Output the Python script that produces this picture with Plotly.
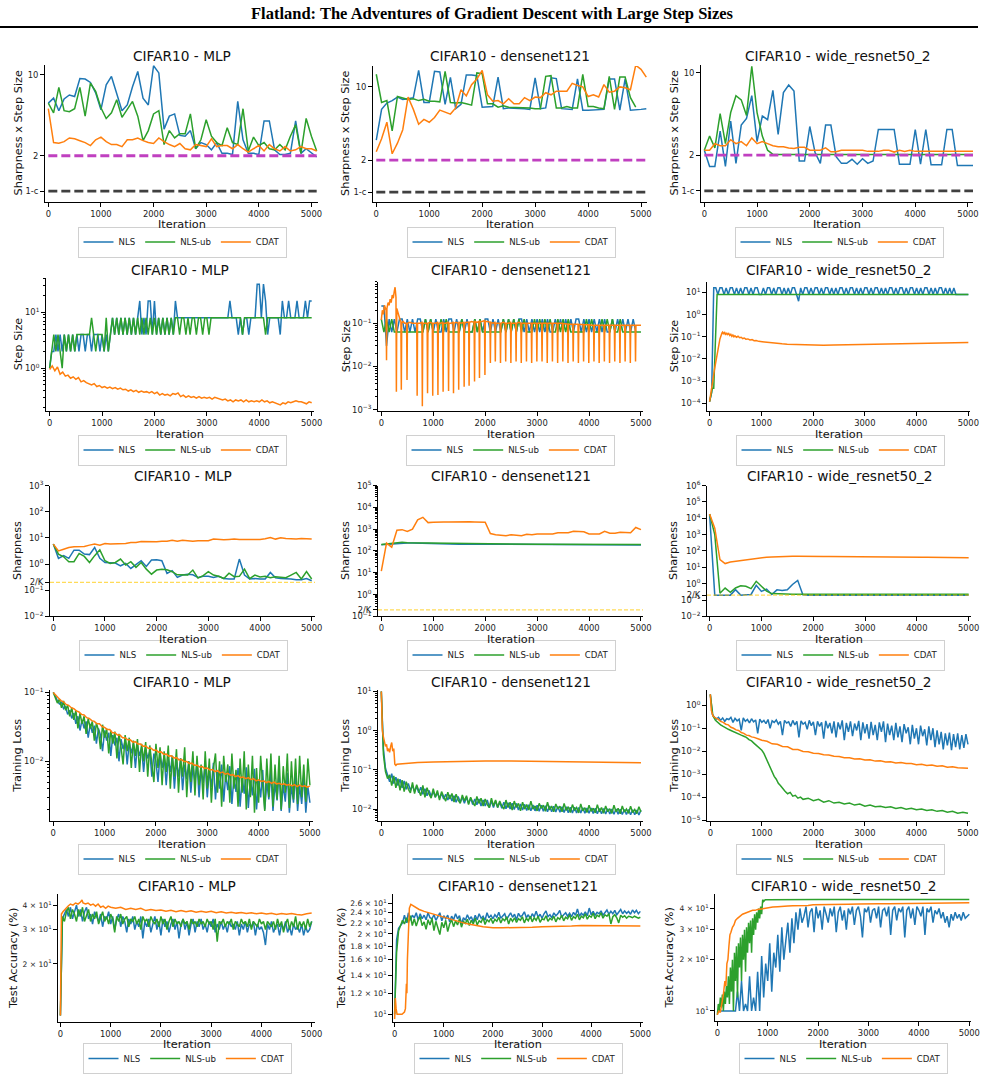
import plotly.graph_objects as go

W, H = 985, 1074
C_NLS = "#1f77b4"
C_UB = "#2ca02c"
C_CDAT = "#ff7f0e"
C_MAG = "#c040c0"
C_DARK = "#404040"
C_GOLD = "rgba(255,200,0,0.65)"

SUPTITLE = "Flatland: The Adventures of Gradient Descent with Large Step Sizes"
MODELS = ["CIFAR10 - MLP", "CIFAR10 - densenet121", "CIFAR10 - wide_resnet50_2"]
Y_LABELS = ["Sharpness x Step Size", "Step Size", "Sharpness", "Training Loss", "Test Accuracy (%)"]
X_LABEL = "Iteration"
NAMES = ["NLS", "NLS-ub", "CDAT"]
X_TICKS = [0, 1000, 2000, 3000, 4000, 5000]

TWO = 2.0
ONE_MINUS_C = 0.99
TWO_OVER_K = 0.2

ITER_5100 = list(range(0, 5101, 100))
ITER_4900 = list(range(0, 4901, 100))
ITER_5000 = list(range(0, 5001, 100))
ITER_40 = list(range(0, 5001, 40))
ITER_50 = list(range(0, 5001, 50))
ITER_50_4900 = list(range(0, 4901, 50))

# ---------------- Row 1: Sharpness x Step Size ----------------
MLP_SS_NLS = [5.7,6.3,4.9,6.2,6.7,6.5,9.3,9.2,8.6,7.0,5.0,8.2,9.7,7.0,4.9,5.5,7.9,10.7,6.3,5.5,12.0,10.4,3.4,4.4,4.6,3.0,2.95,3.3,2.3,2.6,2.5,2.25,2.6,2.1,2.1,2.05,5.9,2.75,2.1,2.1,2.05,4.0,4.0,2.25,2.05,2.05,2.1,4.0,2.1,2.3,2.1,1.95]
MLP_SS_UB = [5.7,4.7,7.8,4.9,4.8,5.1,7.8,4.4,8.5,7.2,5.2,4.2,4.7,6.1,4.3,5.0,5.9,4.4,2.7,3.3,4.6,4.9,2.5,3.3,2.85,3.1,3.1,4.6,2.3,2.75,4.1,2.95,2.6,2.45,3.5,2.6,2.5,5.1,2.2,2.9,2.45,2.6,2.3,2.25,2.5,2.25,2.95,3.7,2.1,4.2,2.95,2.2]
MLP_SS_CDAT = [5.1,2.6,2.57,2.65,2.85,2.8,2.7,2.6,2.45,2.75,2.9,2.65,2.5,2.5,2.4,2.75,2.75,2.85,2.7,2.6,2.55,2.85,2.65,2.5,2.4,2.55,2.3,2.25,2.5,2.45,2.4,2.8,2.4,2.45,2.45,2.3,2.5,2.3,2.15,2.3,2.45,2.2,2.5,2.3,2.2,2.4,2.2,2.25,2.4,2.3,2.3,2.2]

DN_SS_NLS = [3.1,6.1,7.0,7.4,8.0,7.6,7.7,7.9,14.4,7.1,7.1,14.1,13.9,6.8,12.3,6.2,6.8,13.0,13.0,12.8,6.4,6.4,6.5,12.4,6.2,6.3,6.3,6.2,6.2,6.1,12.2,6.2,6.3,12.2,12.0,6.2,6.2,6.1,11.9,6.0,6.0,6.0,6.0,6.1,11.9,11.9,6.0,11.9,6.0,6.0,6.1,6.2]
DN_SS_UB = [13.2,7.1,7.4,3.8,8.1,7.8,7.6,7.7,7.4,7.6,7.3,7.3,7.2,14.1,7.1,7.0,7.1,6.9,6.7,13.6,13.4,6.9,6.9,6.4,6.6,6.4,6.4,6.3,6.3,6.3,6.2,6.2,12.6,12.8,6.3,6.3,6.5,6.3,6.3,13.2,6.5,6.5,6.3,6.2,12.6,6.1,12.4,12.4,7.9,6.4]
DN_SS_CDAT = [2.4,3.2,4.6,2.3,2.9,3.9,8.0,6.1,4.4,4.9,4.6,5.1,6.0,5.7,5.5,6.3,9.4,8.2,10.5,11.9,14.4,8.4,7.3,7.4,6.9,7.7,6.9,6.9,7.9,7.4,8.0,7.9,8.8,8.4,9.1,9.1,9.1,10.8,10.3,10.0,8.1,8.4,8.0,10.5,8.9,9.1,10.0,9.8,9.4,16.1,14.7,12.4]

WR_SS_NLS = [2.2,1.6,1.6,3.2,1.6,3.9,1.7,3.6,4.1,6.4,2.6,4.3,4.0,7.1,3.0,6.8,7.9,7.0,1.78,1.78,3.5,2.1,1.7,3.6,3.6,1.94,1.7,1.7,1.84,1.67,1.86,1.7,1.78,3.3,3.3,3.3,3.3,1.67,1.67,1.67,3.3,1.67,3.3,1.65,1.65,1.65,3.3,3.3,1.63,1.63,1.63,1.63]
WR_SS_UB = [2.2,2.9,2.3,4.5,2.5,4.6,6.4,5.9,4.35,11.4,4.6,2.9,2.2,2.03,2.02,2.02,2.02,2.02,2.02,2.02,
            2.02,2.02,2.02,2.02,2.02,2.02,2.02,2.02,2.02,2.02,2.02,2.02,2.02,2.02,2.02,2.02,2.02,2.02,2.02,2.02,
            2.02,2.02,2.02,2.02,2.02,2.02,2.02,2.02,2.02,2.02,2.02,2.02]
WR_SS_CDAT = [2.2,2.2,2.5,2.4,2.4,2.7,2.5,2.6,2.4,2.8,2.5,2.6,2.5,2.4,2.35,2.35,2.3,2.27,2.33,2.33,2.2,2.2,2.2,2.3,2.13,2.13,2.2,2.2,2.2,2.2,2.2,2.15,2.15,2.15,2.2,2.2,2.12,2.2,2.15,2.2,2.15,2.15,2.15,2.15,2.15,2.13,2.15,2.15,2.14,2.15,2.15,2.15]

# ---------------- Row 2: Step Size ----------------
MLP_STEP_NLS = [1,2,2,4,2,4,2,4,2,4,
                2,4,2,4,2,4,4,2,4,4,
                2,4,4,4,2,4,2,4,2,4,
                8,4,8,4,8,4,8,4,8,4,
                8,4,8,16,4,8,4,16,16,4,
                16,4,8,4,8,4,8,4,8,4,
                16,8,8,8,8,8,8,8,8,8,
                8,8,8,8,8,8,8,8,8,8,
                8,8,8,8,8,8,16,8,8,8,
                4,8,4,8,8,4,8,8,8,32,
                32,8,32,16,4,8,8,8,8,8,
                4,16,8,8,16,8,8,8,16,8,
                8,8,16,8,16,16]
MLP_STEP_UB = [1,2,4,2,4,2,1,4,2,4,
               2,4,2,4,4,4,4,4,4,4,
               8,4,2,4,4,4,2,8,2,4,
               8,4,8,4,8,4,8,4,8,4,
               8,4,8,4,8,4,8,4,8,4,
               8,4,8,4,8,4,8,4,8,4,
               8,8,4,8,8,4,8,4,8,8,
               4,8,8,4,8,8,4,8,8,8,
               8,8,8,8,8,8,8,8,8,8,
               8,8,4,8,8,8,8,8,8,8,
               8,8,8,4,8,8,8,8,8,8,
               8,8,8,8,8,8,8,8,8,8,
               8,8,8,8,8,8]
MLP_STEP_CDAT = [0.95,1.1,0.9,1.05,0.78,0.85,0.72,0.75,0.66,0.7,
                 0.63,0.68,0.57,0.6,0.55,0.52,0.5,0.53,0.47,0.49,
                 0.45,0.47,0.44,0.46,0.43,0.45,0.42,0.44,0.41,0.42,
                 0.39,0.41,0.38,0.4,0.37,0.39,0.37,0.38,0.36,0.38,
                 0.35,0.37,0.33,0.35,0.33,0.34,0.32,0.35,0.34,0.36,
                 0.31,0.33,0.3,0.32,0.3,0.31,0.29,0.31,0.29,0.3,
                 0.29,0.3,0.28,0.3,0.29,0.28,0.27,0.28,0.26,0.27,
                 0.25,0.27,0.26,0.27,0.25,0.27,0.25,0.26,0.25,0.26,
                 0.25,0.27,0.25,0.26,0.24,0.25,0.24,0.23,0.22,0.24,
                 0.23,0.25,0.24,0.25,0.26,0.25,0.25,0.24,0.23,0.25,
                 0.24]

DN_STEP_NLS = [0.25,0.25,0.03,0.125,0.0625,0.125,0.0625,0.125,0.125,0.0625,
               0.125,0.0625,0.125,0.0625,0.125,0.125,0.0625,0.125,0.0625,0.125,
               0.0625,0.125,0.0625,0.0625,0.125,0.0625,0.125,0.125,0.0625,0.125,
               0.0625,0.125,0.0625,0.125,0.0625,0.0625,0.125,0.0625,0.125,0.0625,
               0.125,0.125,0.0625,0.125,0.0625,0.125,0.0625,0.125,0.0625,0.125,
               0.0625,0.125,0.0625,0.125,0.125,0.0625,0.125,0.0625,0.125,0.0625,
               0.125,0.0625,0.125,0.0625,0.125,0.0625,0.0625,0.125,0.0625,0.125,
               0.0625,0.125,0.0625,0.125,0.0625,0.125,0.125,0.0625,0.125,0.0625,
               0.125,0.0625,0.125,0.0625,0.125,0.0625,0.125,0.0625,0.0625,0.125,
               0.0625,0.125,0.0625,0.125,0.0625,0.125,0.0625,0.125,0.0625]
DN_STEP_UB = [0.125,0.0625,0.125,0.0625,0.125,0.0625,0.0625,0.0625,0.0625,0.0625,
              0.0625,0.0625,0.0625,0.0625,0.0625,0.0625,0.0625,0.125,0.0625,0.125,
              0.0625,0.0625,0.0625,0.125,0.0625,0.125,0.0625,0.0625,0.0625,0.0625,
              0.0625,0.125,0.0625,0.0625,0.0625,0.0625,0.125,0.0625,0.125,0.0625,
              0.0625,0.0625,0.0625,0.0625,0.0625,0.0625,0.0625,0.125,0.0625,0.125,
              0.0625,0.125,0.0625,0.125,0.0625,0.125,0.0625,0.0625,0.0625,0.125,
              0.0625,0.125,0.0625,0.125,0.0625,0.125,0.0625,0.0625,0.125,0.0625,
              0.125,0.0625,0.125,0.0625,0.0625,0.0625,0.0625,0.0625,0.0625,0.125,
              0.0625,0.125,0.0625,0.0625,0.0625,0.125,0.0625,0.125,0.0625,0.125,
              0.0625,0.0625,0.125,0.0625,0.0625,0.0625,0.0625,0.0625,0.0625,0.0625,0.0625]
DN_STEP_CDAT = [(0,0.12),(20,0.2),(40,0.16),(60,0.26),(80,0.22),(92,0.2),(100,0.014),(108,0.22),(130,0.3),(150,0.26),
    (170,0.36),(190,0.3),(210,0.45),(230,0.38),(250,0.55),(265,0.68),(282,0.4),(290,0.0026),(298,0.22),(320,0.17),
    (340,0.14),(360,0.12),(377,0.11),(385,0.0029),(393,0.1),(420,0.11),(450,0.1),(487,0.1),(495,0.0049),(503,0.1),
    (550,0.105),(600,0.1),(650,0.1),(682,0.1),(690,0.0021),(698,0.1),(740,0.1),(782,0.105),(790,0.0012),(798,0.1),
    (840,0.1),(882,0.1),(890,0.0024),(898,0.1),(940,0.105),(982,0.1),(990,0.0021),(998,0.1),(1040,0.1),(1082,0.105),
    (1090,0.0022),(1098,0.1),(1140,0.1),(1182,0.105),(1190,0.0026),(1198,0.1),(1240,0.1),(1287,0.105),(1295,0.0027),(1303,0.1),
    (1340,0.1),(1382,0.105),(1390,0.0024),(1398,0.1),(1440,0.105),(1482,0.1),(1490,0.0029),(1498,0.105),(1540,0.1),(1587,0.105),
    (1595,0.0034),(1603,0.1),(1640,0.105),(1682,0.105),(1690,0.0036),(1698,0.105),(1740,0.11),(1787,0.105),(1795,0.0045),(1803,0.11),
    (1840,0.105),(1882,0.11),(1890,0.0054),(1898,0.11),(1940,0.11),(1987,0.115),(1995,0.0064),(2003,0.11),(2050,0.11),(2092,0.105),
    (2100,0.012),(2108,0.105),(2150,0.1),(2187,0.105),(2195,0.013),(2203,0.1),(2250,0.1),(2287,0.1),(2295,0.012),(2303,0.1),
    (2350,0.105),(2387,0.1),(2395,0.013),(2403,0.1),(2450,0.1),(2487,0.105),(2495,0.012),(2503,0.1),(2550,0.1),(2587,0.1),
    (2595,0.013),(2603,0.1),(2650,0.105),(2687,0.1),(2695,0.012),(2703,0.1),(2750,0.1),(2787,0.1),(2795,0.013),(2803,0.1),
    (2850,0.1),(2887,0.1),(2895,0.012),(2903,0.1),(2950,0.1),(2987,0.1),(2995,0.013),(3003,0.1),(3050,0.1),(3087,0.1),
    (3095,0.013),(3103,0.1),(3150,0.1),(3187,0.1),(3195,0.012),(3203,0.1),(3250,0.1),(3287,0.1),(3295,0.013),(3303,0.1),
    (3350,0.1),(3387,0.1),(3395,0.012),(3403,0.1),(3450,0.1),(3487,0.1),(3495,0.013),(3503,0.097),(3550,0.097),(3587,0.095),
    (3595,0.012),(3603,0.095),(3650,0.095),(3687,0.095),(3695,0.013),(3703,0.095),(3750,0.095),(3787,0.095),(3795,0.012),(3803,0.093),
    (3850,0.093),(3887,0.093),(3895,0.013),(3903,0.093),(3950,0.092),(3987,0.092),(3995,0.012),(4003,0.092),(4050,0.09),(4087,0.09),
    (4095,0.013),(4103,0.09),(4150,0.09),(4187,0.09),(4195,0.012),(4203,0.09),(4250,0.09),(4287,0.09),(4295,0.013),(4303,0.09),
    (4350,0.09),(4387,0.09),(4395,0.012),(4403,0.09),(4450,0.09),(4487,0.09),(4495,0.013),(4503,0.09),(4550,0.09),(4587,0.09),
    (4595,0.012),(4603,0.09),(4650,0.09),(4687,0.09),(4695,0.013),(4703,0.09),(4750,0.09),(4787,0.09),(4795,0.012),(4803,0.09),
    (4850,0.09),(4887,0.09),(4895,0.013),(4903,0.09),(4950,0.09),(5000,0.09)]

WR_STEP_NLS_X = [0, 40, 80] + list(range(120, 5001, 40))
WR_STEP_NLS = [1.2e-4, 3e-4, 16,
               16,8,16,16,8,16,8,16,16,8,
               16,8,16,8,16,16,8,16,8,16,
               16,8,8,16,8,16,16,8,16,8,
               16,16,8,16,8,16,8,16,16,8,
               4,16,8,16,16,8,16,8,16,16,
               8,16,8,16,16,8,16,8,16,8,
               16,16,8,16,8,16,16,8,16,8,
               16,8,16,16,8,16,8,16,16,8,
               16,8,16,8,16,16,8,16,8,16,
               16,8,16,8,16,16,8,16,8,16,
               8,16,16,8,16,8,16,8,16,16,
               8,16,8,16,8,16,8,8,8,8,
               8,8,8]
WR_STEP_UB = [(0,1.2e-4),(55,4.8e-4),(80,4.8e-4),(145,8),(5000,8)]
WR_STEP_CDAT = [(0,1.2e-4),(30,3e-4),(60,0.001),(100,0.004),(150,0.02),(200,0.08),(240,0.15),(250,0.16),(270,0.13),(290,0.165),
    (310,0.12),(330,0.15),(350,0.125),(370,0.14),(390,0.115),(410,0.13),(430,0.105),(450,0.12),(470,0.1),(490,0.11),
    (520,0.095),(550,0.105),(580,0.09),(610,0.095),(640,0.083),(670,0.088),(700,0.078),(740,0.08),(780,0.072),(820,0.074),
    (860,0.066),(900,0.067),(950,0.062),(1000,0.06),(1050,0.058),(1100,0.055),(1200,0.052),(1300,0.05),(1400,0.048),(1500,0.046),
    (1600,0.045),(1700,0.044),(1800,0.043),(1900,0.042),(2000,0.042),(2200,0.041),(2400,0.042),(2600,0.043),(2800,0.044),(3000,0.045),
    (3200,0.046),(3400,0.047),(3600,0.048),(3800,0.049),(4000,0.05),(4200,0.051),(4400,0.052),(4600,0.053),(4800,0.054),(5000,0.055)]

# ---------------- Row 3: Sharpness ----------------
MLP_SH_NLS = [5.8,1.65,2.1,1.65,3.4,3.4,2.4,2.3,4.3,1.65,1.15,1.1,1.1,0.86,1.06,0.68,0.92,1.34,0.81,1.42,1.46,1.34,0.44,0.56,0.31,0.38,0.41,0.39,0.31,0.34,0.34,0.31,0.34,0.28,0.27,0.27,1.55,0.38,0.27,0.28,0.27,0.27,0.48,0.30,0.28,0.28,0.27,0.25,0.25,0.28,0.23]
MLP_SH_UB = [5.8,2.4,1.9,1.23,1.23,2.55,1.96,1.15,2.1,3.5,1.34,1.06,1.15,1.55,0.92,1.23,0.75,1.15,0.64,0.41,0.59,0.64,0.61,0.51,0.39,0.38,0.38,0.59,0.29,0.36,0.51,0.38,0.34,0.28,0.45,0.33,0.34,0.64,0.28,0.38,0.32,0.34,0.30,0.33,0.32,0.30,0.38,0.48,0.27,0.52,0.27]
MLP_SH_CDAT = [5.8,3.2,3.7,4.3,4.6,4.6,4.7,5.3,5.8,5.3,6.1,5.8,5.8,6.1,6.1,6.7,6.7,7.3,7.1,7.1,7.1,7.5,7.5,8.2,7.5,8.2,7.8,7.5,7.8,7.8,7.8,9.0,8.5,8.5,8.7,9.0,8.7,8.7,8.5,8.5,8.7,9.2,10.4,9.0,10.1,9.5,9.2,9.0,9.5,9.2,9.0]

DN_SH_NLS = [195,205,210,220,240,235,235,230,225,220,215,215,212,210,205,205,205,205,205,205,205,205,203,203,202,200,200,200,198,196,196,195,195,195,195,195,195,193,193,192,192,192,192,190,190,190,190,190,190,190,190]
DN_SH_UB = [200,210,215,225,250,240,238,235,230,225,220,220,218,215,212,212,210,210,210,212,210,208,208,207,205,205,205,205,204,204,203,203,203,202,202,202,202,202,201,200,200,200,200,200,200,200,200,200,200,200,198]
DN_SH_CDAT = [12,230,150,900,950,780,1000,2700,3500,2000,2100,2200,2150,2150,2200,2200,2200,2200,2150,2100,2100,630,550,530,500,560,520,500,580,560,600,600,620,600,680,680,680,800,760,760,600,600,600,800,650,650,720,700,680,1200,950]

WR_SH_NLS = [18000,0.2,0.2,0.2,0.2,0.43,0.2,0.21,0.22,0.8,0.34,0.47,0.22,0.42,0.38,0.42,0.9,1.6,0.21,0.2,
             0.2,0.2,0.19,0.2,0.2,0.19,0.2,0.2,0.2,0.19,0.2,0.2,0.2,0.19,0.2,0.2,0.2,0.2,0.19,0.2,
             0.2,0.2,0.2,0.2,0.19,0.2,0.2,0.2,0.2,0.2,0.2]
WR_SH_UB = [18000,1000,0.26,0.54,0.3,0.55,0.75,0.7,0.5,1.4,0.7,0.35,0.25,0.24,0.23,0.23,0.23,0.23,0.23,0.23,
            0.23,0.24,0.23,0.23,0.23,0.23,0.23,0.23,0.23,0.23,0.23,0.23,0.23,0.23,0.23,0.23,0.23,0.23,0.23,0.23,
            0.23,0.23,0.23,0.23,0.23,0.23,0.23,0.23,0.23,0.23,0.23]
WR_SH_CDAT = [18000,2500,30,17,21,23,25,28,33,36,40,42,43,44,45,50,47,47,46,46,46,46,46,46,46,46,46,45,45,45,45,45,45,45,45,45,44,44,43,43,42,42,41,41,40,40,39,39,38,38,38]

# ---------------- Row 4: Training Loss ----------------
MLP_LOSS_NLS = [0.1,0.09,0.075,0.068,0.072,0.058,0.062,0.048,0.055,0.042,
                0.05,0.035,0.045,0.028,0.04,0.03,0.038,0.022,0.035,0.026,
                0.033,0.018,0.03,0.024,0.014,0.028,0.02,0.026,0.012,0.024,
                0.017,0.022,0.01,0.021,0.015,0.02,0.009,0.019,0.013,0.018,
                0.008,0.017,0.012,0.016,0.007,0.015,0.011,0.014,0.006,0.013,
                0.01,0.005,0.013,0.008,0.012,0.0045,0.011,0.007,0.012,0.004,
                0.01,0.006,0.011,0.0038,0.009,0.0055,0.01,0.0035,0.0085,0.005,
                0.01,0.003,0.008,0.0048,0.009,0.003,0.0075,0.0042,0.0095,0.0028,
                0.007,0.004,0.009,0.0026,0.0065,0.0038,0.0085,0.0024,0.006,0.0036,
                0.008,0.0022,0.0058,0.0034,0.0082,0.0021,0.0055,0.0032,0.0078,0.002,
                0.0052,0.003,0.0075,0.002,0.005,0.0028,0.0072,0.0019,0.0048,0.0027,
                0.007,0.0019,0.0046,0.0026,0.0068,0.0018,0.0045,0.0025,0.0066,0.0019,
                0.0044,0.0024,0.0065,0.0018,0.0043,0.0025]
MLP_LOSS_UB = [0.1,0.085,0.07,0.08,0.06,0.075,0.055,0.065,0.045,0.06,
               0.04,0.055,0.03,0.05,0.035,0.045,0.025,0.042,0.03,0.038,
               0.02,0.036,0.028,0.015,0.034,0.022,0.03,0.013,0.028,0.018,
               0.027,0.011,0.025,0.016,0.009,0.024,0.014,0.022,0.008,0.02,
               0.012,0.021,0.007,0.018,0.01,0.019,0.006,0.017,0.009,0.005,
               0.018,0.008,0.016,0.0045,0.014,0.007,0.017,0.004,0.012,0.006,
               0.015,0.0035,0.011,0.006,0.016,0.003,0.01,0.005,0.014,0.0032,
               0.012,0.0045,0.009,0.0028,0.014,0.004,0.011,0.0025,0.008,0.013,
               0.0035,0.01,0.0022,0.012,0.005,0.009,0.0025,0.013,0.004,0.0075,
               0.0022,0.011,0.0035,0.014,0.002,0.009,0.003,0.012,0.0018,0.008,
               0.0025,0.012,0.0045,0.0019,0.011,0.003,0.013,0.0022,0.009,0.0028,
               0.012,0.002,0.0085,0.0035,0.013,0.0021,0.01,0.0028,0.011,0.0024,
               0.012,0.003,0.009,0.0026,0.011,0.0045]
MLP_LOSS_CDAT = [0.1,0.09,0.083,0.076,0.073,0.067,0.065,0.06,0.058,0.054,
                 0.052,0.048,0.047,0.043,0.042,0.039,0.038,0.035,0.035,0.032,
                 0.031,0.029,0.029,0.026,0.026,0.024,0.024,0.022,0.022,0.0205,
                 0.0205,0.019,0.0192,0.0178,0.0178,0.0166,0.0167,0.0155,0.0156,0.0145,
                 0.0146,0.0136,0.0137,0.0127,0.0128,0.0119,0.012,0.0112,0.0113,0.0105,
                 0.0106,0.0099,0.0099,0.0093,0.0094,0.0088,0.0088,0.0083,0.0084,0.0079,
                 0.008,0.0075,0.0076,0.0071,0.0073,0.0068,0.007,0.0065,0.0067,0.0063,
                 0.0064,0.006,0.0062,0.0058,0.0059,0.0056,0.0058,0.0054,0.0056,0.0052,
                 0.0054,0.0051,0.0052,0.0049,0.0051,0.0048,0.005,0.0047,0.0048,0.0046,
                 0.0047,0.0045,0.0046,0.0044,0.0046,0.0043,0.0045,0.0043,0.0044,0.0042,
                 0.0044]

DN_LOSS_NLS = [10,0.35,0.11,0.07,0.05,0.08,0.045,0.065,0.04,0.058,
               0.035,0.052,0.032,0.045,0.03,0.04,0.028,0.038,0.026,0.036,
               0.024,0.033,0.022,0.03,0.021,0.028,0.02,0.026,0.019,0.025,
               0.018,0.024,0.017,0.023,0.016,0.022,0.015,0.021,0.015,0.02,
               0.014,0.02,0.014,0.019,0.013,0.018,0.013,0.018,0.012,0.017,
               0.012,0.017,0.011,0.016,0.011,0.016,0.011,0.015,0.0105,0.015,
               0.0102,0.0145,0.01,0.014,0.0098,0.014,0.0095,0.0135,0.0095,0.0132,
               0.0092,0.013,0.009,0.0128,0.009,0.0126,0.0088,0.0125,0.0088,0.0122,
               0.0086,0.012,0.0085,0.0118,0.0084,0.0116,0.0083,0.0115,0.0082,0.0114,
               0.0081,0.0112,0.008,0.0111,0.008,0.011,0.0079,0.0108,0.0078,0.0107,
               0.0078,0.0106,0.0077,0.0105,0.0076,0.0104,0.0076,0.0103,0.0075,0.0102,
               0.0075,0.0101,0.0074,0.01,0.0074,0.0099,0.0073,0.0098,0.0073,0.0097,
               0.0072,0.0096,0.0072,0.0095,0.0071,0.0094]
DN_LOSS_UB = [10,0.25,0.09,0.06,0.075,0.04,0.07,0.035,0.06,0.03,
              0.055,0.028,0.05,0.032,0.026,0.048,0.025,0.042,0.03,0.022,
              0.04,0.02,0.035,0.024,0.019,0.033,0.02,0.03,0.017,0.028,
              0.021,0.016,0.027,0.018,0.025,0.015,0.024,0.017,0.014,0.023,
              0.016,0.022,0.013,0.02,0.015,0.012,0.021,0.014,0.019,0.012,
              0.018,0.013,0.011,0.019,0.012,0.017,0.011,0.016,0.012,0.01,
              0.017,0.011,0.015,0.0095,0.016,0.011,0.014,0.009,0.015,0.01,
              0.013,0.0095,0.016,0.01,0.012,0.009,0.014,0.0105,0.0125,0.0088,
              0.015,0.0095,0.012,0.0085,0.0135,0.01,0.0118,0.0085,0.014,0.0092,
              0.0115,0.0082,0.013,0.0095,0.011,0.008,0.0135,0.009,0.0108,0.0082,
              0.0125,0.0088,0.0105,0.008,0.013,0.0085,0.011,0.0078,0.012,0.0086,
              0.0102,0.0078,0.0125,0.0085,0.0105,0.0076,0.012,0.0084,0.01,0.0078,
              0.0118,0.0082,0.0098,0.0077,0.0115,0.0085]
DN_LOSS_CDAT = [(0,10),(10,3),(20,1.0),(40,0.7),(60,0.5),(80,0.4),(100,0.45),(120,0.3),(140,0.35),(160,0.28),
    (180,0.4),(200,0.5),(220,0.3),(240,0.35),(260,0.14),(280,0.13),(300,0.14),(400,0.145),(500,0.15),(700,0.155),
    (1000,0.16),(1500,0.165),(2000,0.17),(2500,0.168),(3000,0.165),(3500,0.16),(4000,0.158),(4500,0.155),(5000,0.153)]

WR_LOSS_NLS = [3,0.4,0.3,0.25,0.3,0.22,0.28,0.2,0.26,0.24,
               0.3,0.18,0.27,0.21,0.25,0.08,0.28,0.2,0.24,0.17,
               0.26,0.19,0.23,0.06,0.25,0.18,0.22,0.16,0.24,0.1,
               0.21,0.18,0.23,0.15,0.2,0.05,0.22,0.17,0.19,0.12,
               0.22,0.14,0.2,0.04,0.21,0.15,0.18,0.09,0.22,0.13,
               0.19,0.05,0.2,0.12,0.18,0.035,0.21,0.1,0.17,0.06,
               0.2,0.04,0.18,0.09,0.22,0.03,0.17,0.07,0.2,0.045,
               0.16,0.08,0.21,0.03,0.18,0.06,0.15,0.035,0.19,0.05,
               0.14,0.03,0.18,0.07,0.2,0.025,0.16,0.05,0.13,0.03,
               0.17,0.04,0.12,0.025,0.15,0.06,0.11,0.02,0.14,0.035,
               0.1,0.02,0.13,0.045,0.09,0.018,0.12,0.03,0.1,0.015,
               0.08,0.02,0.07,0.012,0.06,0.018,0.065,0.011,0.055,0.015,
               0.06,0.012,0.05,0.014,0.055,0.02]
WR_LOSS_UB = [(0,3),(20,0.9),(50,0.35),(100,0.22),(150,0.17),(200,0.14),(250,0.12),(300,0.1),(350,0.09),(400,0.08),
    (450,0.07),(500,0.065),(550,0.055),(600,0.05),(650,0.045),(700,0.04),(750,0.032),(800,0.028),(850,0.022),(900,0.018),
    (950,0.014),(1000,0.011),(1040,0.008),(1080,0.005),(1120,0.003),(1160,0.0018),(1200,0.0012),(1240,0.0008),(1280,0.0006),(1320,0.0004),
    (1360,0.00032),(1400,0.00024),(1450,0.00018),(1500,0.00014),(1550,0.00016),(1600,0.00011),(1650,0.00012),(1700,0.00009),(1750,0.0001),(1800,0.00008),
    (1900,0.00009),(2000,0.00007),(2100,0.00008),(2200,0.00006),(2300,0.00007),(2400,0.000055),(2500,0.00006),(2600,0.00005),(2700,0.000055),(2800,0.000045),
    (2900,0.00005),(3000,0.00004),(3100,0.000045),(3200,0.000038),(3300,0.00004),(3400,0.000035),(3500,0.000038),(3600,0.000032),(3700,0.000035),(3800,0.00003),
    (3900,0.000033),(4000,0.000028),(4100,0.00003),(4200,0.000026),(4300,0.000028),(4400,0.000024),(4500,0.000026),(4600,0.000022),(4700,0.000024),(4800,0.00002),
    (4900,0.000022),(5000,0.00002)]
WR_LOSS_CDAT = [(0,3),(20,0.6),(50,0.35),(100,0.28),(150,0.25),(200,0.2),(250,0.18),(300,0.15),(350,0.14),(400,0.11),
    (450,0.1),(500,0.085),(550,0.08),(600,0.065),(650,0.06),(700,0.05),(750,0.048),(800,0.042),(850,0.04),(900,0.035),
    (950,0.033),(1000,0.03),(1100,0.027),(1200,0.021),(1300,0.02),(1400,0.016),(1500,0.0155),(1600,0.012),(1700,0.0118),(1800,0.0098),
    (1900,0.0094),(2000,0.0082),(2100,0.008),(2200,0.007),(2300,0.0069),(2400,0.006),(2500,0.0059),(2600,0.0052),(2700,0.0052),(2800,0.0046),
    (2900,0.0047),(3000,0.0041),(3100,0.0042),(3200,0.0037),(3300,0.0038),(3400,0.0034),(3500,0.0035),(3600,0.0031),(3700,0.0032),(3800,0.0029),
    (3900,0.0029),(4000,0.0026),(4100,0.0027),(4200,0.0024),(4300,0.0025),(4400,0.0022),(4500,0.0023),(4600,0.002),(4700,0.0021),(4800,0.0019),
    (4900,0.0019),(5000,0.0018)]

# ---------------- Row 5: Test Accuracy ----------------
MLP_ACC_NLS = [10.9,34,36,38,35,39,34,37,40,35,
               38,33,37,39,34,36,32,37,35,33,
               36,31,35,34,37,32,35,30,34,36,
               31,35,33,29,34,32,35,30,33,31,
               35,27,33,31,34,29,32,35,30,33,
               28,34,31,33,29,32,34,30,33,27,
               32,34,30,33,28,32,34,29,33,31,
               34,30,32,29,33,31,34,29,32,30,
               33,30,32,29,33,31,32,30,33,28,
               32,30,33,29,32,31,33,28,32,30,
               31,29,25,32,30,33,29,31,32,28,
               32,30,33,29,31,28,32,30,31,29,
               32,28,31,29,30,33]
MLP_ACC_UB = [10.9,35,33,37,39,34,38,36,33,38,
              35,39,33,36,38,33,36,34,37,32,
              35,37,33,35,32,36,34,29,35,33,
              36,32,34,35,31,34,33,35,32,34,
              30,35,33,34,31,35,33,32,34,31,
              35,32,34,30,33,35,31,34,32,33,
              31,34,32,33,30,34,32,33,31,34,
              32,33,31,34,32,33,30,34,26,33,
              32,34,31,33,32,34,30,33,32,31,
              34,32,33,31,34,30,33,32,31,34,
              32,33,30,33,32,31,33,30,34,31,
              33,29,32,34,30,33,31,35,30,33,
              31,33,30,34,31,33]
MLP_ACC_CDAT = [(0,10.9),(20,36),(50,37),(100,38.5),(150,39.5),(200,40.5),(250,40),(300,41),(350,40.5),(400,41.5),
    (430,42.5),(450,41),(500,40.5),(550,41),(600,40),(650,40.5),(700,39.5),(750,40.5),(800,39),(850,39.5),
    (900,38.5),(950,39.5),(1000,39),(1100,38.5),(1200,39),(1300,38),(1400,38.5),(1500,38),(1600,38.5),(1700,37.5),
    (1800,38),(1900,37.5),(2000,37.8),(2100,37.2),(2200,37.6),(2300,37),(2400,37.5),(2500,37),(2600,37.4),(2700,36.8),
    (2800,37.2),(2900,36.8),(3000,37.2),(3100,36.6),(3200,37),(3300,36.5),(3400,36.8),(3500,36.4),(3600,36.7),(3700,36.2),
    (3800,36.6),(3900,36.1),(4000,36.4),(4100,36),(4200,36.3),(4300,35.8),(4400,36.2),(4500,35.9),(4600,36.2),(4700,35.8),
    (4800,35.6),(4900,36.1),(5000,36.4)]

DN_ACC_NLS = [10,19,21,21.5,22,23.5,22,24,22.5,23.5,
              23,24,22.5,23.8,22.8,23.5,22.6,24,23,22.8,
              23.6,22.5,23.2,24,22.4,23.4,22.8,23.5,22.2,23.3,
              22.6,23.8,22.8,23.4,21.8,23,22.5,23.6,22.7,23.2,
              22.2,23.5,22.6,23.8,22.9,23.3,22.5,24,23,23.5,
              22.8,23.6,23.1,24.1,22.9,23.4,23.8,22.7,23.5,24,
              23.1,23.7,22.6,23.9,23.2,23.5,24.2,23,23.6,22.8,
              23.8,23.2,24.3,23.1,23.7,22.9,23.8,24.4,23.2,23.6,
              23,24,23.4,23.8,24.5,23.1,23.6,24,23.3,23.9,
              23.2,24.1,23.5,24.8,23.3,23.9,23.5,24.2,23.4,25,
              23.6,24.3,23.5,24.1,23.8,24.4,23.5,24,24.6,23.7,
              24.3,23.8,24.5,23.6,24.2,24.7,23.8,24.4,23.9,24.3,
              23.7,24.6,24,24.5,23.8,24.3]
DN_ACC_UB = [10,17,20.5,21.5,22.5,21.8,23,22,23.4,21.5,
             22.8,21.4,22.6,23.2,21.5,22.2,20.8,22.6,21.6,22.9,
             20.6,22.3,21.2,19.9,22.1,21.1,22.5,20.4,21.8,22.6,
             21.3,22.4,21.6,22.8,21.2,22.3,21.9,22.7,21.5,22.5,
             21.8,22.9,21.6,22.4,22.1,23,21.7,22.6,22.2,22.9,
             21.9,22.7,22.3,23.1,22,22.8,22.4,23.2,21.8,22.9,
             22.3,23,22.1,22.8,22.5,23.2,22,22.9,22.4,23.3,
             22.2,23,22.5,23.3,22.1,22.8,22.6,23.4,22.3,22.9,
             22.6,23.3,22.2,23,22.7,23.5,22.4,23.1,22.8,23.6,
             22.5,23.2,22.9,23.7,22.6,23.3,23,23.8,22.7,23.4,
             23.1,23.9,22.8,23.5,23.2,24,22.9,23.6,23.3,23.8,
             21.8,23.2,23.6,23,22,23.5,23.1,23.4,22.9,23.3,
             23.2,23,23.3,23.1,22.9,23.1]
DN_ACC_CDAT = [(0,9.6),(15,11.5),(30,10.5),(50,10),(100,10),(150,10),(200,10.2),(220,10.5),(240,13),(250,12),
    (260,16),(280,22),(300,25),(330,25.8),(360,25.6),(400,25.3),(450,25),(500,24.7),(600,24.3),(700,24),
    (800,23.6),(900,23.3),(1000,23),(1100,22.7),(1200,22.5),(1300,22.2),(1400,22),(1500,21.8),(1600,21.6),(1700,21.5),
    (1800,21.3),(1900,21.2),(2000,21.1),(2200,21.1),(2400,21.1),(2600,21.2),(2800,21.2),(3000,21.3),(3200,21.3),(3400,21.4),
    (3600,21.4),(3800,21.5),(4000,21.5),(4200,21.4),(4400,21.5),(4600,21.4),(4800,21.4),(5000,21.4)]

WR_ACC_NLS = [10,10,10,10,10,10,10,10,10,10,
              13,10,15,10,11,10,16,10,12,10,
              17,10,21,12,19,15,25,13,22,18,
              28,17,31,20,26,33,22,35,25,38,
              30,40,33,36,41,31,38,40,29,41,
              35,39,30,41,37,33,40,36,41,29,
              38,41,34,39,30,40,37,41,32,39,
              41,36,27,40,38,41,33,39,40,35,
              41,31,39,40,36,41,28,39,41,34,
              40,38,41,27,39,41,35,40,32,41,
              39,36,41,28,40,38,41,33,39,37,
              40,35,38,33,36,31,37,34,38,35,
              37,34,38,35,36,37]
WR_ACC_UB = [(0,9.5),(20,11),(40,10),(60,12),(80,10.5),(100,12.5),(120,10),(140,13),(160,11),(180,14),
    (200,12),(220,16),(240,11),(260,18),(280,13),(300,20),(320,10),(340,22),(360,15),(380,24),
    (400,12),(420,25),(440,18),(460,27),(480,15),(500,28),(520,20),(540,30),(560,17),(580,31),
    (600,22),(620,33),(640,25),(660,34),(680,22),(700,35),(720,28),(740,37),(760,30),(780,38),
    (800,33),(820,40),(840,35),(860,41),(880,37),(900,45),(920,44),(950,45),(1000,45),(1500,45.2),
    (2000,45.2),(3000,45.2),(4000,45.2),(5000,45.2)]
WR_ACC_CDAT = [(0,9.5),(30,10),(60,9.8),(90,11),(120,12.5),(150,15),(170,14),(190,19),(210,20),(230,24),
    (250,28),(270,29),(300,31),(330,32),(360,34),(400,35),(450,36),(500,37),(550,37.5),(600,38),
    (650,38.5),(700,39),(750,39),(800,39.5),(900,39.8),(1000,40.5),(1100,40.8),(1200,41),(1300,41),(1400,41.3),
    (1500,41.5),(1600,41.5),(1700,41.8),(1800,41.7),(1900,42),(2000,42),(2200,42.1),(2400,42.3),(2600,42.3),(2800,42.5),
    (3000,42.4),(3200,42.6),(3400,42.7),(3600,42.8),(3800,42.8),(4000,42.9),(4200,43),(4400,43),(4600,43.1),(4800,43.2),
    (5000,43.2)]

# ---------------- geometry (pixels) ----------------
BOXES = [
    [(45, 65, 318, 202), (373, 66, 647, 202), (701, 65, 973, 202)],
    [(46, 278, 314, 411), (378, 282, 643, 411), (707, 282, 970, 411)],
    [(50, 486, 315, 617), (378, 486, 643, 617), (707, 486, 971, 617)],
    [(50, 691, 313, 822), (378, 691, 643, 822), (707, 691, 970, 822)],
    [(58, 895, 315, 1023), (393, 895, 643, 1023), (715, 895, 971, 1022)],
]
TITLE_Y = [56, 270, 476, 683, 887]
XLAB_Y = [225, 435, 640, 845, 1045]
YLAB_X = [[18, 346, 674], [18, 346, 674], [18, 346, 674], [18, 346, 675], [13, 341, 670]]
LEG_Y = [242, 450, 655, 859, 1059]
LEG_X = [[182, 511, 839], [182, 510, 840], [183, 511, 840], [182, 511, 840], [187, 518, 843]]
TICK_SIZE = [8.4, 8.4, 8.4, 8.4, 7.6]


def unzip(pairs):
    return [p[0] for p in pairs], [p[1] for p in pairs]


def p10(e):
    s = str(e) if e >= 0 else "\u2212" + str(-e)
    return "10<sup>" + s + "</sup>"


def minor_vals(e0, e1):
    return [m * 10.0 ** e for e in range(e0, e1) for m in range(2, 10)]


fig = go.Figure()
lay = {}
annots = []
shapes = []


def panel(n, r, c, xr, yr, yt, ytt, series, minor=None, refs=(), hline=None):
    l, t, rr, b = BOXES[r][c]
    xa, ya = ("x", "y") if n == 1 else ("x%d" % n, "y%d" % n)
    xk, yk = ("xaxis", "yaxis") if n == 1 else ("xaxis%d" % n, "yaxis%d" % n)
    lk = "legend" if n == 1 else "legend%d" % n
    common = dict(showline=True, linecolor="black", linewidth=0.9, ticks="outside", ticklen=4,
                  tickwidth=0.9, tickcolor="black", showgrid=False, zeroline=False, automargin=False)
    lay[xk] = dict(domain=[l / W, rr / W], range=list(xr), anchor=ya, tickmode="array",
                   tickvals=X_TICKS, ticktext=[str(v) for v in X_TICKS],
                   tickfont=dict(size=8.4, color="#222", family="DejaVu Sans"), **common)
    yd = dict(domain=[1 - b / H, 1 - t / H], type="log", range=list(yr), anchor=xa,
              tickmode="array", tickvals=yt, ticktext=ytt,
              tickfont=dict(size=TICK_SIZE[r], color="#222", family="DejaVu Sans"), **common)
    if minor:
        yd["minor"] = dict(tickmode="array", tickvals=minor, ticks="outside", ticklen=2.3,
                           tickwidth=0.7, tickcolor="black")
    lay[yk] = yd
    for (x, y, color, name) in series:
        fig.add_trace(go.Scatter(x=x, y=y, mode="lines", name=name, xaxis=xa, yaxis=ya,
                                 legend=lk, line=dict(color=color, width=1.5)))
    for (x, y, color, width, dash) in refs:
        fig.add_trace(go.Scatter(x=x, y=y, mode="lines", showlegend=False, xaxis=xa, yaxis=ya,
                                 hoverinfo="skip", line=dict(color=color, width=width, dash=dash)))
    if hline is not None:
        shapes.append(dict(type="line", xref=xa + " domain", x0=0, x1=1, yref=ya, y0=hline, y1=hline,
                           line=dict(color=C_GOLD, width=1.1, dash="4px,2px")))
    lay[lk] = dict(x=LEG_X[r][c] / W, y=1 - LEG_Y[r] / H, xanchor="center", yanchor="middle",
                   orientation="h", font=dict(size=8.6, color="#222", family="DejaVu Sans"),
                   bgcolor="white", bordercolor="#d0d0d0", borderwidth=1, itemwidth=30,
                   tracegroupgap=0)
    cx = (l + rr) / 2 / W
    annots.append(dict(x=cx, y=1 - TITLE_Y[r] / H, xref="paper", yref="paper", text=MODELS[c],
                       showarrow=False, xanchor="center", yanchor="middle",
                       font=dict(size=13.7, color="#111", family="DejaVu Sans")))
    annots.append(dict(x=cx, y=1 - XLAB_Y[r] / H, xref="paper", yref="paper", text=X_LABEL,
                       showarrow=False, xanchor="center", yanchor="middle",
                       font=dict(size=11.3, color="#111", family="DejaVu Sans")))
    annots.append(dict(x=YLAB_X[r][c] / W, y=1 - (t + b) / 2 / H, xref="paper", yref="paper",
                       text=Y_LABELS[r], textangle=-90, showarrow=False, xanchor="center",
                       yanchor="middle", font=dict(size=11.3, color="#111", family="DejaVu Sans")))


def ss_refs(x):
    span = [x[0], x[-1]]
    return [(span, [TWO, TWO], C_MAG, 2.8, "9px,4px"),
            (span, [ONE_MINUS_C, ONE_MINUS_C], C_DARK, 2.8, "9px,4px")]


SS_T = [ONE_MINUS_C, TWO, 10]
SS_TT = ["1-c", "2", "10"]

# Row 1
panel(1, 0, 0, (-63, 5125), (-0.097, 1.086), SS_T, SS_TT,
      [(ITER_5100, MLP_SS_NLS, C_NLS, NAMES[0]), (ITER_5100, MLP_SS_UB, C_UB, NAMES[1]),
       (ITER_5100, MLP_SS_CDAT, C_CDAT, NAMES[2])], refs=ss_refs(ITER_5100))
panel(2, 0, 1, (-62, 5113), (-0.097, 1.2), SS_T, SS_TT,
      [(ITER_5100, DN_SS_NLS, C_NLS, NAMES[0]), (ITER_4900, DN_SS_UB, C_UB, NAMES[1]),
       (ITER_5100, DN_SS_CDAT, C_CDAT, NAMES[2])], refs=ss_refs(ITER_5100))
panel(3, 0, 2, (-63, 5095), (-0.097, 1.068), SS_T, SS_TT,
      [(ITER_5100, WR_SS_NLS, C_NLS, NAMES[0]), (ITER_5100, WR_SS_UB, C_UB, NAMES[1]),
       (ITER_5100, WR_SS_CDAT, C_CDAT, NAMES[2])], refs=ss_refs(ITER_5100))

# Row 2
x, y = unzip(DN_STEP_CDAT)
panel(4, 1, 0, (-69, 5044), (-0.76, 1.62), [1, 10], [p10(0), p10(1)],
      [(ITER_40, MLP_STEP_NLS, C_NLS, NAMES[0]), (ITER_40, MLP_STEP_UB, C_UB, NAMES[1]),
       (ITER_50, MLP_STEP_CDAT, C_CDAT, NAMES[2])], minor=minor_vals(-1, 2))
panel(5, 1, 1, (-64, 5039), (-3.02, -0.04), [1e-3, 1e-2, 1e-1], [p10(-3), p10(-2), p10(-1)],
      [(ITER_50_4900, DN_STEP_NLS, C_NLS, NAMES[0]), (ITER_50, DN_STEP_UB, C_UB, NAMES[1]),
       (x, y, C_CDAT, NAMES[2])], minor=minor_vals(-4, 0))
xu, yu = unzip(WR_STEP_UB)
xc, yc = unzip(WR_STEP_CDAT)
panel(6, 1, 2, (-50, 5032), (-4.33, 1.48), [1e-4, 1e-3, 1e-2, 1e-1, 1, 10],
      [p10(-4), p10(-3), p10(-2), p10(-1), p10(0), p10(1)],
      [(WR_STEP_NLS_X, WR_STEP_NLS, C_NLS, NAMES[0]), (xu, yu, C_UB, NAMES[1]),
       (xc, yc, C_CDAT, NAMES[2])])

# Row 3
panel(7, 2, 0, (-64, 5064), (-2, 3), [1e-2, 1e-1, TWO_OVER_K, 1, 10, 100, 1000],
      [p10(-2), p10(-1), "2/K", p10(0), p10(1), p10(2), p10(3)],
      [(ITER_5000, MLP_SH_NLS, C_NLS, NAMES[0]), (ITER_5000, MLP_SH_UB, C_UB, NAMES[1]),
       (ITER_5000, MLP_SH_CDAT, C_CDAT, NAMES[2])], hline=TWO_OVER_K)
panel(8, 2, 1, (-64, 5039), (-1, 5), [1e-1, TWO_OVER_K, 1, 10, 100, 1000, 1e4, 1e5],
      [p10(-1), "2/K", p10(0), p10(1), p10(2), p10(3), p10(4), p10(5)],
      [(ITER_5000, DN_SH_NLS, C_NLS, NAMES[0]), (ITER_5000, DN_SH_UB, C_UB, NAMES[1]),
       (ITER_5000, DN_SH_CDAT, C_CDAT, NAMES[2])], hline=TWO_OVER_K, minor=minor_vals(-1, 5))
panel(9, 2, 2, (-50, 5045), (-2, 6), [1e-2, 1e-1, TWO_OVER_K, 1, 10, 100, 1000, 1e4, 1e5, 1e6],
      [p10(-2), p10(-1), "2/K", p10(0), p10(1), p10(2), p10(3), p10(4), p10(5), p10(6)],
      [(ITER_5000, WR_SH_NLS, C_NLS, NAMES[0]), (ITER_5000, WR_SH_UB, C_UB, NAMES[1]),
       (ITER_5000, WR_SH_CDAT, C_CDAT, NAMES[2])], hline=TWO_OVER_K)

# Row 4
x, y = unzip(DN_LOSS_CDAT)
panel(10, 3, 0, (-64, 5060), (-2.87, -0.97), [1e-2, 1e-1], [p10(-2), p10(-1)],
      [(ITER_40, MLP_LOSS_NLS, C_NLS, NAMES[0]), (ITER_40, MLP_LOSS_UB, C_UB, NAMES[1]),
       (ITER_50, MLP_LOSS_CDAT, C_CDAT, NAMES[2])], minor=minor_vals(-3, 0))
panel(11, 3, 1, (-64, 5039), (-2.31, 1.03), [1e-2, 1e-1, 1, 10], [p10(-2), p10(-1), p10(0), p10(1)],
      [(ITER_40, DN_LOSS_NLS, C_NLS, NAMES[0]), (ITER_40, DN_LOSS_UB, C_UB, NAMES[1]),
       (x, y, C_CDAT, NAMES[2])], minor=minor_vals(-3, 1))
xu, yu = unzip(WR_LOSS_UB)
xc, yc = unzip(WR_LOSS_CDAT)
panel(12, 3, 2, (-64, 5039), (-5.05, 0.65), [1e-5, 1e-4, 1e-3, 1e-2, 1e-1, 1],
      [p10(-5), p10(-4), p10(-3), p10(-2), p10(-1), p10(0)],
      [(ITER_40, WR_LOSS_NLS, C_NLS, NAMES[0]), (xu, yu, C_UB, NAMES[1]),
       (xc, yc, C_CDAT, NAMES[2])])


# Row 5
def sci(m):
    return (m + " \u00d7 " if m else "") + "10<sup>1</sup>"


x, y = unzip(MLP_ACC_CDAT)
panel(13, 4, 0, (-48, 5066), (1.004, 1.658), [20, 30, 40], [sci("2"), sci("3"), sci("4")],
      [(ITER_40, MLP_ACC_NLS, C_NLS, NAMES[0]), (ITER_40, MLP_ACC_UB, C_UB, NAMES[1]),
       (x, y, C_CDAT, NAMES[2])])
x, y = unzip(DN_ACC_CDAT)
panel(14, 4, 1, (-33, 5054), (0.971, 1.45), [10, 12, 14, 16, 18, 20, 22, 24, 26],
      [sci(""), sci("1.2"), sci("1.4"), sci("1.6"), sci("1.8"), sci("2"), sci("2.2"), sci("2.4"), sci("2.6")],
      [(ITER_40, DN_ACC_NLS, C_NLS, NAMES[0]), (ITER_40, DN_ACC_UB, C_UB, NAMES[1]),
       (x, y, C_CDAT, NAMES[2])])
xu, yu = unzip(WR_ACC_UB)
xc, yc = unzip(WR_ACC_CDAT)
panel(15, 4, 2, (-46, 5034), (0.941, 1.686), [10, 20, 30, 40], [sci(""), sci("2"), sci("3"), sci("4")],
      [(ITER_40, WR_ACC_NLS, C_NLS, NAMES[0]), (xu, yu, C_UB, NAMES[1]),
       (xc, yc, C_CDAT, NAMES[2])])

annots.append(dict(x=492 / W, y=1 - 14 / H, xref="paper", yref="paper", text="<b>" + SUPTITLE + "</b>",
                   showarrow=False, xanchor="center", yanchor="middle",
                   font=dict(size=16.5, color="black", family="Liberation Serif")))
shapes.append(dict(type="line", xref="paper", yref="paper", x0=0, x1=978 / W, y0=1 - 27 / H, y1=1 - 27 / H,
                   line=dict(color="black", width=2)))

fig.update_layout(width=W, height=H, margin=dict(l=0, r=0, t=0, b=0), plot_bgcolor="white",
                  paper_bgcolor="white", font=dict(family="DejaVu Sans", color="#111"),
                  showlegend=True, annotations=annots, shapes=shapes, **lay)
fig.write_html("out.html")
